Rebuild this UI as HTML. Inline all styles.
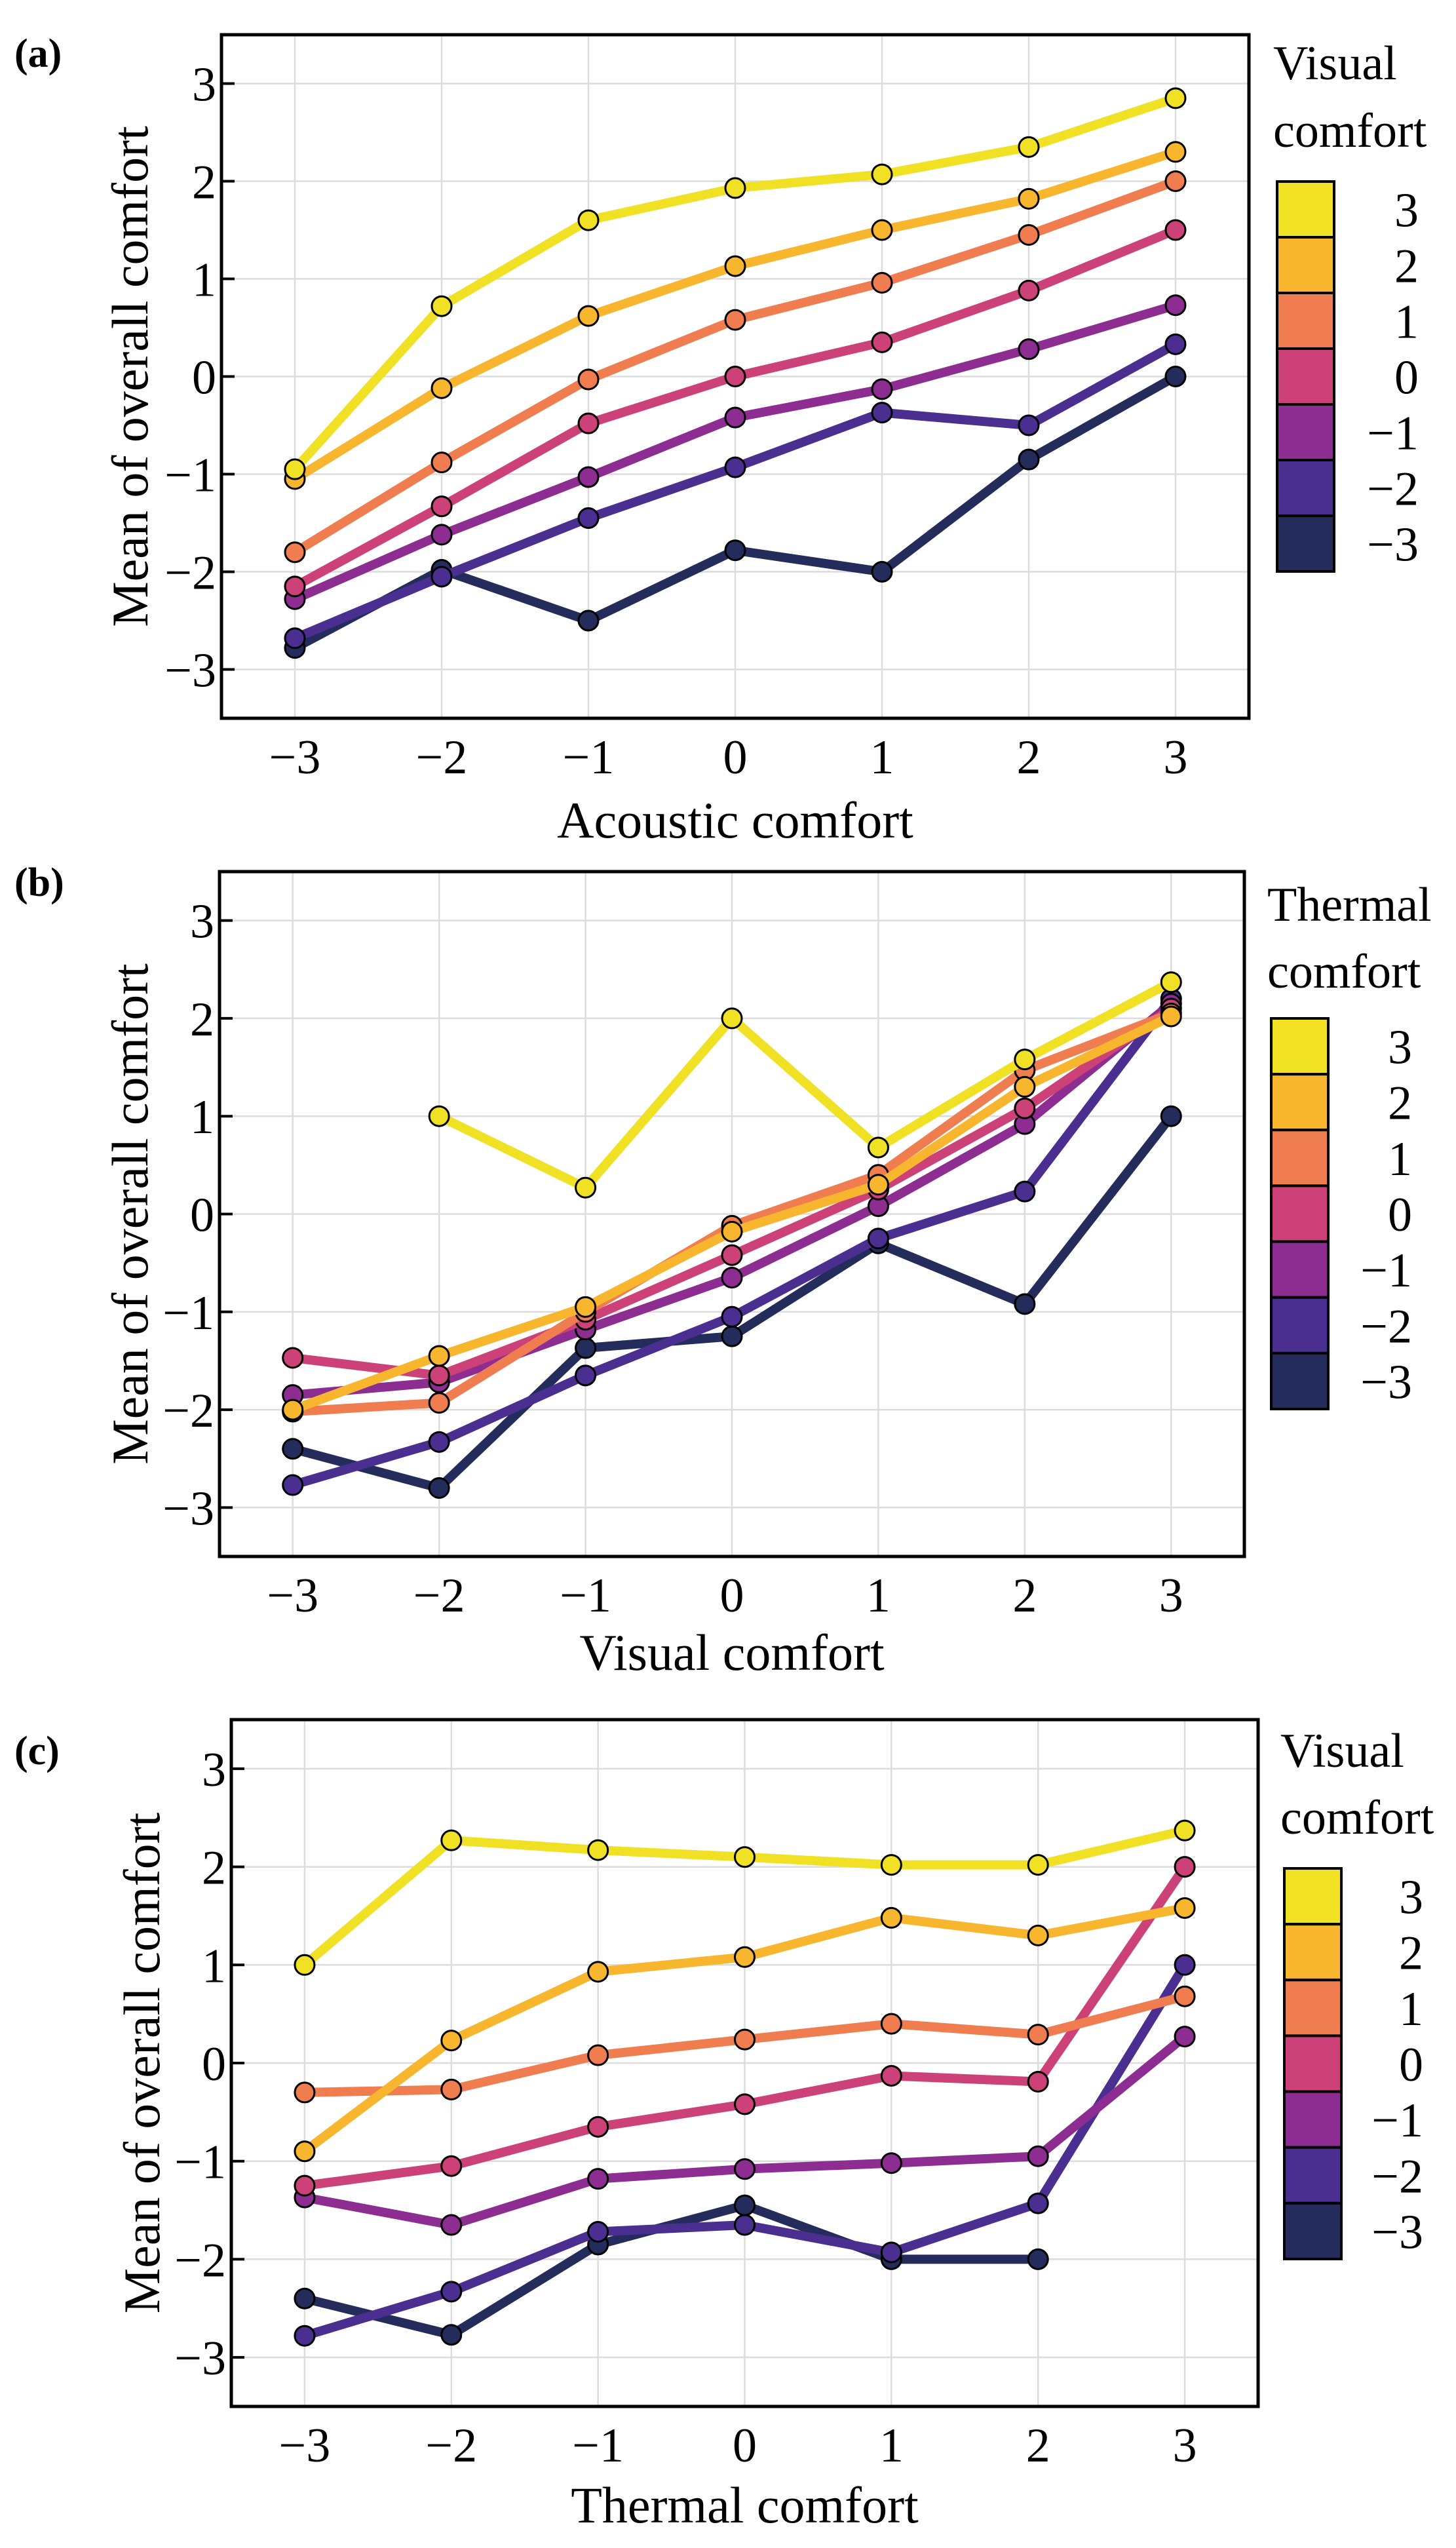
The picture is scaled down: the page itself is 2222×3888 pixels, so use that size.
<!DOCTYPE html>
<html><head><meta charset="utf-8">
<style>
html,body{margin:0;padding:0;background:#fff;}
svg{display:block;}
text{font-family:"Liberation Serif",serif;fill:#000;}
</style></head>
<body>
<svg id="fig" width="2222" height="3888" viewBox="0 0 2222 3888" xmlns="http://www.w3.org/2000/svg"></svg>
<script>
// ---- data ----
const levels = [-3, -2, -1, 0, 1, 2, 3];
const xCats = [-3, -2, -1, 0, 1, 2, 3];
const yTicks = [-3, -2, -1, 0, 1, 2, 3];
const tickLabels = ["−3", "−2", "−1", "0", "1", "2", "3"];
const levelColors = ["#242c5c", "#4a2f90", "#8e2d91", "#cc4278", "#ef7d50", "#f8b62e", "#f0e125"];

// Panel (a): series by visual comfort level (-3..3), x = acoustic comfort
const aSeries = [
  [-2.78, -1.98, -2.5, -1.78, -2.0, -0.85, 0.0],
  [-2.68, -2.05, -1.45, -0.93, -0.37, -0.5, 0.33],
  [-2.28, -1.62, -1.03, -0.42, -0.13, 0.28, 0.73],
  [-2.15, -1.33, -0.48, 0.0, 0.35, 0.88, 1.5],
  [-1.8, -0.88, -0.03, 0.58, 0.96, 1.45, 2.0],
  [-1.05, -0.12, 0.62, 1.13, 1.5, 1.82, 2.3],
  [-0.95, 0.72, 1.6, 1.93, 2.07, 2.35, 2.85]
];
// Panel (b): series by thermal comfort level, x = visual comfort
const bSeries = [
  [-2.4, -2.8, -1.37, -1.25, -0.3, -0.92, 1.0],
  [-2.77, -2.33, -1.65, -1.05, -0.25, 0.23, 2.2],
  [-1.85, -1.72, -1.18, -0.65, 0.08, 0.92, 2.15],
  [-1.47, -1.65, -1.08, -0.42, 0.25, 1.08, 2.1],
  [-2.02, -1.93, -1.0, -0.12, 0.4, 1.47, 2.05],
  [-2.0, -1.45, -0.95, -0.18, 0.3, 1.3, 2.02],
  [null, 1.0, 0.27, 2.0, 0.68, 1.58, 2.37]
];
// Panel (c): series by visual comfort level, x = thermal comfort
const cSeries = [
  [-2.4, -2.77, -1.85, -1.45, -2.0, -2.0, null],
  [-2.78, -2.33, -1.72, -1.65, -1.93, -1.43, 1.0],
  [-1.37, -1.65, -1.18, -1.08, -1.02, -0.95, 0.27],
  [-1.25, -1.05, -0.65, -0.42, -0.13, -0.19, 2.0],
  [-0.3, -0.27, 0.08, 0.24, 0.4, 0.29, 0.68],
  [-0.9, 0.23, 0.93, 1.08, 1.48, 1.3, 1.58],
  [1.0, 2.27, 2.17, 2.1, 2.02, 2.02, 2.37]
];

const NS = "http://www.w3.org/2000/svg";
const svg = document.getElementById("fig");
function el(tag, attrs, parent) {
  const e = document.createElementNS(NS, tag);
  for (const k in attrs) e.setAttribute(k, attrs[k]);
  (parent || svg).appendChild(e);
  return e;
}

function panel(cfg) {
  const g = el("g", {});
  
  
  const L = cfg.left, R = cfg.right, T = cfg.top, B = cfg.bottom;
  const xs = v => L + (v + 3.5) / 7 * (R - L);
  const ys = v => B - (v + 3.5) / 7 * (B - T);

  xCats.forEach(v => {
    const ln = el("line", {x1: xs(v), x2: xs(v), y1: T, y2: B, stroke: "#dcdcdc", "stroke-width": 2.5}, g);
    
    
  });
  yTicks.forEach(v => {
    const ln = el("line", {x1: L, x2: R, y1: ys(v), y2: ys(v), stroke: "#dcdcdc", "stroke-width": 2.5}, g);
    
    
  });

  cfg.series.forEach((vals, si) => {
    const sg = el("g", {}, g);
    
    
    let d = "", pen = false;
    vals.forEach((v, i) => {
      if (v === null) { pen = false; return; }
      d += (pen ? "L" : "M") + xs(xCats[i]) + "," + ys(v);
      pen = true;
    });
    const p = el("path", {d: d, fill: "none", stroke: levelColors[si], "stroke-width": 14, "stroke-linejoin": "round", "stroke-linecap": "round"}, sg);
    
    
    vals.forEach((v, i) => {
      if (v === null) return;
      const c = el("circle", {cx: xs(xCats[i]), cy: ys(v), r: 15, fill: levelColors[si], stroke: "#000", "stroke-width": 3}, sg);
      
      
    });
  });

  const fr = el("rect", {x: L, y: T, width: R - L, height: B - T, fill: "none", stroke: "#000", "stroke-width": 5}, g);
  
  

  yTicks.forEach((v, i) => {
    const tk = el("line", {x1: L, x2: L + 20, y1: ys(v), y2: ys(v), stroke: "#000", "stroke-width": 4}, g);
    
    
    const t = el("text", {x: L - 8, y: ys(v) + 26, "font-size": 74, "text-anchor": "end"}, g);
    t.textContent = tickLabels[i];
    
    
  });
  xCats.forEach((v, i) => {
    const t = el("text", {x: xs(v), y: B + 84, "font-size": 74, "text-anchor": "middle"}, g);
    t.textContent = tickLabels[i];
    
    
  });
  const xt = el("text", {x: (L + R) / 2, y: cfg.xTitleY, "font-size": 78, "text-anchor": "middle"}, g);
  xt.textContent = cfg.xTitle;
  
  
  const yt = el("text", {x: 0, y: 0, "font-size": 78, "text-anchor": "middle", transform: "translate(" + (cfg.yTitleX + 26) + "," + (T + B) / 2 + ") rotate(-90)"}, g);
  yt.textContent = "Mean of overall comfort";
  
  
  const pl = el("text", {x: 22, y: cfg.labelY, "font-size": 62, "font-weight": "bold"}, g);
  pl.textContent = "(" + cfg.id + ")";
  
  

  const lg = el("g", {}, g);
  
  
  const t1 = el("text", {x: cfg.legX - 6, y: cfg.legT1 + 26, "font-size": 74}, lg);
  t1.textContent = cfg.legTitle;
  
  
  const t2 = el("text", {x: cfg.legX - 6, y: cfg.legT2 + 26, "font-size": 74}, lg);
  t2.textContent = "comfort";
  
  
  const segH = (cfg.cbB - cfg.cbT) / 7;
  for (let k = 0; k < 7; k++) {
    const lvIdx = 6 - k;
    const y0 = cfg.cbT + k * segH;
    const r = el("rect", {x: cfg.legX, y: y0, width: 87, height: segH, fill: levelColors[lvIdx], stroke: "#000", "stroke-width": 4}, lg);
    
    
    const lt = el("text", {x: cfg.legLabR, y: y0 + segH / 2 + 26, "font-size": 74, "text-anchor": "end"}, lg);
    lt.textContent = tickLabels[lvIdx];
    
    
  }
}

panel({id: "a", left: 338, right: 1906, top: 53, bottom: 1096, series: aSeries,
  xTitle: "Acoustic comfort", xTitleY: 1278, yTitleX: 199, labelY: 102,
  legTitle: "Visual", legX: 1949, legT1: 95, legT2: 198, cbT: 277, cbB: 872, legLabR: 2165});
panel({id: "b", left: 335, right: 1899, top: 1330, bottom: 2375, series: bSeries,
  xTitle: "Visual comfort", xTitleY: 2548, yTitleX: 199, labelY: 1367,
  legTitle: "Thermal", legX: 1940, legT1: 1379, legT2: 1481, cbT: 1554, cbB: 2150, legLabR: 2155});
panel({id: "c", left: 353, right: 1920, top: 2624, bottom: 3672, series: cSeries,
  xTitle: "Thermal comfort", xTitleY: 3849, yTitleX: 217, labelY: 2692,
  legTitle: "Visual", legX: 1960, legT1: 2670, legT2: 2772, cbT: 2851, cbB: 3447, legLabR: 2172});
</script>
</body></html>
